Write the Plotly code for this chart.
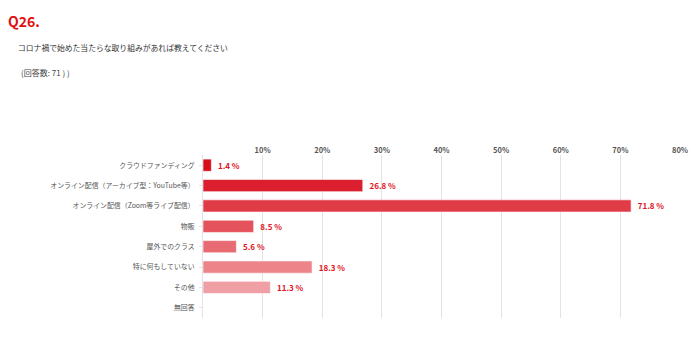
import plotly.graph_objects as go

categories = ["クラウドファンディング", "オンライン配信（アーカイブ型：YouTube等）", "オンライン配信（Zoom等ライブ配信）",
              "物販", "屋外でのクラス", "特に何もしていない", "その他", "無回答"]
values = [1.4, 26.8, 71.8, 8.5, 5.6, 18.3, 11.3, 0]
colors = ["#d80c18", "#dc1f2e", "#e03c48", "#e4525c", "#e86a72", "#ec848a", "#f0a0a4", "#f3b5b8"]
tick_vals = [10, 20, 30, 40, 50, 60, 70, 80]
tick_text = [f"{v}%" for v in tick_vals]

labels = [f"\u00a0\u00a0{v} %" if v > 0 else "" for v in values]

FONT = "Noto Sans CJK JP"

fig = go.Figure(go.Bar(
    y=categories, x=values, orientation="h",
    marker=dict(color=colors, line=dict(color="rgba(255,255,255,0.6)", width=1)),
    width=0.6,
    text=labels, textposition="outside", cliponaxis=False,
    textfont=dict(color="#e0141e", size=8, family=FONT, weight="bold"),
    hoverinfo="skip",
))

pl, pr, pt, pb = 203, 17, 155, 36
pw, ph = 700 - pl - pr, 354 - pt - pb

fig.update_layout(
    width=700, height=354,
    margin=dict(l=pl, r=pr, t=pt, b=pb),
    paper_bgcolor="white", plot_bgcolor="white",
    showlegend=False,
    font=dict(family=FONT, size=8, color="#444"),
    xaxis=dict(range=[0, 80], side="top", tickvals=tick_vals, ticktext=tick_text,
               showgrid=True, gridcolor="#e3e3e3", gridwidth=1, zeroline=False,
               tickfont=dict(size=7.5, color="#555", weight="bold"), ticks="", ticklabelstandoff=0),
    yaxis=dict(autorange="reversed", showline=True, linecolor="#dfe3ec", linewidth=1,
               ticks="outside", ticklen=3, tickcolor="#dfe3ec", ticklabelstandoff=3,
               tickfont=dict(size=6.9, color="#555")),
    bargap=0.4,
)

annots = [
    dict(text="<b>Q26.</b>", x=5, y=9, size=14, color="#e01010"),
    dict(text="コロナ禍で始めた当たらな取り組みがあれば教えてください", x=15, y=40, size=7.8, color="#333"),
    dict(text="(回答数: 71 ) )", x=18, y=65, size=8, color="#444"),
]
new = []
for a in annots:
    new.append(dict(text=a["text"], x=(a["x"] - pl) / pw, y=(354 - pb - a["y"]) / ph,
                    xref="paper", yref="paper", showarrow=False, xanchor="left", yanchor="top",
                    font=dict(size=a["size"], color=a["color"], family=FONT)))
fig.layout.annotations = new

fig.write_html("out.html")
